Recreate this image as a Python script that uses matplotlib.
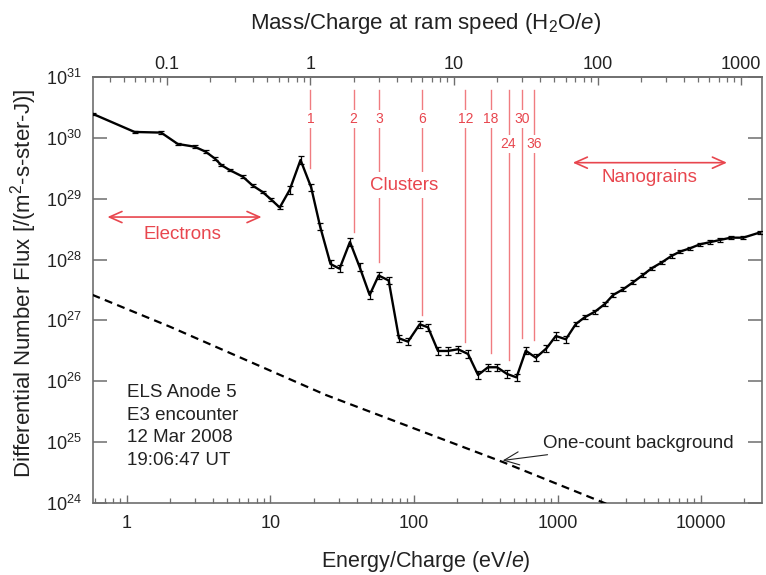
import numpy as np
import matplotlib
matplotlib.use("Agg")
import matplotlib.pyplot as plt
from matplotlib.ticker import FixedLocator, LogLocator, NullLocator, NullFormatter, LogFormatterSciNotation, FuncFormatter

plt.rcParams['font.family'] = ['Liberation Sans', 'DejaVu Sans']
plt.rcParams['mathtext.fontset'] = 'custom'
plt.rcParams['mathtext.rm'] = 'Liberation Sans'
plt.rcParams['mathtext.it'] = 'Liberation Sans:italic'

# ELS anode 5 spectrum: energy step (eV/e) and differential number flux
energy = [0.58, 1.13, 1.73, 2.26, 2.96, 3.53, 4.08, 4.54, 5.19, 6.42, 7.50, 8.81, 10.1,
          11.6, 13.6, 16.2, 19.2, 22.2, 26.2, 30.3, 35.8, 41.8, 49.1, 56.7, 66.6, 78.6,
          90.8, 109.6, 125.2, 147, 172.7, 202.7, 238, 279.5, 328, 379, 445, 518, 601,
          706, 838, 973, 1143, 1342, 1550, 1820, 2137, 2441, 2868, 3367, 3934, 4524,
          5312, 6237, 7128, 8368, 9824, 11535, 13545, 16160, 19690, 25750]
flux = [2.47e30, 1.25e30, 1.22e30, 7.93e29, 7.16e29, 5.93e29, 4.61e29, 3.58e29, 2.96e29,
        2.30e29, 1.65e29, 1.29e29, 9.71e28, 7.17e28, 1.39e29, 4.33e29, 1.54e29, 3.47e28,
        8.46e27, 7.08e27, 1.95e28, 7.55e27, 2.62e27, 5.48e27, 4.53e27, 5.09e26, 4.48e26,
        8.64e26, 7.71e26, 3.15e26, 3.15e26, 3.36e26, 2.81e26, 1.27e26, 1.70e26, 1.70e26,
        1.32e26, 1.16e26, 3.18e26, 2.44e26, 3.48e26, 5.55e26, 4.90e26, 8.74e26, 1.13e27,
        1.39e27, 1.86e27, 2.62e27, 3.25e27, 4.25e27, 5.58e27, 7.19e27, 8.95e27, 1.15e28,
        1.35e28, 1.53e28, 1.78e28, 1.93e28, 2.10e28, 2.29e28, 2.29e28, 2.79e28]

# one-count background level
bg_energy = [0.575, 1.98, 24.3, 415, 2037, 3000]
bg_flux = [2.63e27, 7.94e26, 5.96e25, 4.72e24, 1.04e24, 7.2e23]

# water-group cluster sizes and where their marker lines stop
cluster_size = [1, 2, 3, 6, 12, 18, 24, 30, 36]
cluster_line_end = [3.2e29, 2.84e28, 9.1e27, 1.23e27, 4.43e26, 2.92e26, 2.24e26, 5.1e26, 4.8e26]
cluster_low_label = [24, 36]

energy_ticks = [1, 10, 100, 1000, 10000]
mass_ticks = [0.1, 1, 10, 100, 1000]
flux_ticks = [1e24, 1e25, 1e26, 1e27, 1e28, 1e29, 1e30, 1e31]

EV_PER_H2O = 19.0   # ram energy of one water molecule
red = '#e8464e'
red_line = '#f07c80'
ink = '#222222'
frame = '#6e6e6e'

energy = np.array(energy)
flux = np.array(flux)
rel_err = np.where(energy < 12, 0.05, np.where(energy < 1200, 0.15, 0.07))

fig = plt.figure(figsize=(7.66, 5.75), dpi=100)
ax = fig.add_axes([93 / 766, 1 - 503 / 575, 669 / 766, 426 / 575])
ax.set_xscale('log')
ax.set_yscale('log')
ax.set_xlim(0.58, 26600)
ax.set_ylim(1e24, 1e31)

# cluster marker lines
for m, y_end in zip(cluster_size, cluster_line_end):
    e = m * EV_PER_H2O
    ax.plot([e, e], [y_end, 6.1e30], color=red_line, lw=1.0, zorder=1)
    y_lab = 7.9e29 if m in cluster_low_label else 2.04e30
    ax.text(e, y_lab, str(m), color=red, fontsize=10, ha='center', va='center', zorder=2,
            bbox=dict(facecolor='white', edgecolor='none', pad=1.5))

ax.text(84.8, 1.68e29, 'Clusters', color=red, fontsize=13.5, ha='center', va='center', zorder=2,
        bbox=dict(facecolor='white', edgecolor='none', pad=3))

ax.plot(bg_energy, bg_flux, color='k', lw=1.6, ls=(0, (3.6, 2.4)), zorder=3)

ax.errorbar(energy, flux, yerr=[flux - flux / (1 + rel_err), flux * rel_err],
            color='k', lw=1.7, elinewidth=0.9, capsize=2.5, capthick=0.9, zorder=4)

# population ranges
ax.annotate('', xy=(0.731, 5.0e28), xytext=(8.67, 5.0e28),
            arrowprops=dict(arrowstyle='<->,head_length=0.9,head_width=0.4', color=red, lw=1.2,
                            shrinkA=0, shrinkB=0))
ax.text(2.44, 2.54e28, 'Electrons', color=red, fontsize=13.5, ha='center', va='center')
ax.annotate('', xy=(1278, 3.91e29), xytext=(15160, 3.91e29),
            arrowprops=dict(arrowstyle='<->,head_length=0.9,head_width=0.4', color=red, lw=1.2,
                            shrinkA=0, shrinkB=0))
ax.text(4403, 2.19e29, 'Nanograins', color=red, fontsize=13.5, ha='center', va='center')

ax.annotate('One-count background', xy=(415, 5.0e24), xytext=(790, 7.0e24),
            fontsize=13.5, color=ink, ha='left', va='bottom',
            arrowprops=dict(arrowstyle='->,head_length=0.8,head_width=0.35', color=ink, lw=0.8,
                            shrinkA=2, shrinkB=0))

for txt, yv in zip(['ELS Anode 5', 'E3 encounter', '12 Mar 2008', '19:06:47 UT'],
                   [6.43e25, 2.69e25, 1.17e25, 4.9e24]):
    ax.text(1.0, yv, txt, fontsize=13.5, color=ink, ha='left', va='center')

# axes styling
for sp in ax.spines.values():
    sp.set_color(frame)
    sp.set_linewidth(1.2)

ax.yaxis.set_major_locator(FixedLocator(flux_ticks))
ax.yaxis.set_minor_locator(NullLocator())
ax.yaxis.set_major_formatter(LogFormatterSciNotation())
ax.xaxis.set_major_locator(FixedLocator(energy_ticks))
ax.xaxis.set_minor_locator(LogLocator(base=10, subs=np.arange(2, 10), numticks=20))
ax.xaxis.set_major_formatter(FuncFormatter(lambda v, p: '%g' % v))
ax.xaxis.set_minor_formatter(NullFormatter())

ax.tick_params(axis='y', which='major', direction='in', length=10, width=1.1, color=frame,
               right=True, pad=8, labelsize=13, labelcolor=ink)
ax.tick_params(axis='x', which='major', direction='in', length=6, width=1.0, color=frame,
               top=False, pad=9, labelsize=13, labelcolor=ink)
ax.tick_params(axis='x', which='minor', direction='in', length=3.5, width=0.9, color=frame, top=False)

ax.set_xlabel('Energy/Charge (eV/$e$)', fontsize=15.5, color=ink)
ax.xaxis.set_label_coords(0.498, -0.108)
ax.set_ylabel('Differential Number Flux [/(m$^{2}$-s-ster-J)]', fontsize=16, color=ink)
ax.yaxis.set_label_coords(-0.080, 0.515)

secax = ax.secondary_xaxis('top', functions=(lambda e: e / EV_PER_H2O, lambda m: m * EV_PER_H2O))
secax.xaxis.set_major_locator(FixedLocator(mass_ticks))
secax.xaxis.set_minor_locator(LogLocator(base=10, subs=np.arange(2, 10), numticks=20))
secax.xaxis.set_major_formatter(FuncFormatter(lambda v, p: '%g' % v))
secax.xaxis.set_minor_formatter(NullFormatter())
secax.tick_params(axis='x', which='major', direction='in', length=6, width=1.0, color=frame,
                  pad=3, labelsize=13, labelcolor=ink)
secax.tick_params(axis='x', which='minor', direction='in', length=3.5, width=0.9, color=frame)
secax.spines['top'].set_color(frame)
secax.spines['top'].set_linewidth(1.2)

fig.text(426 / 766, 1 - 36 / 575, 'Mass/Charge at ram speed (H$_2$O/$e$)', fontsize=16,
         color=ink, ha='center', va='bottom')

fig.savefig('out.png', dpi=100)
